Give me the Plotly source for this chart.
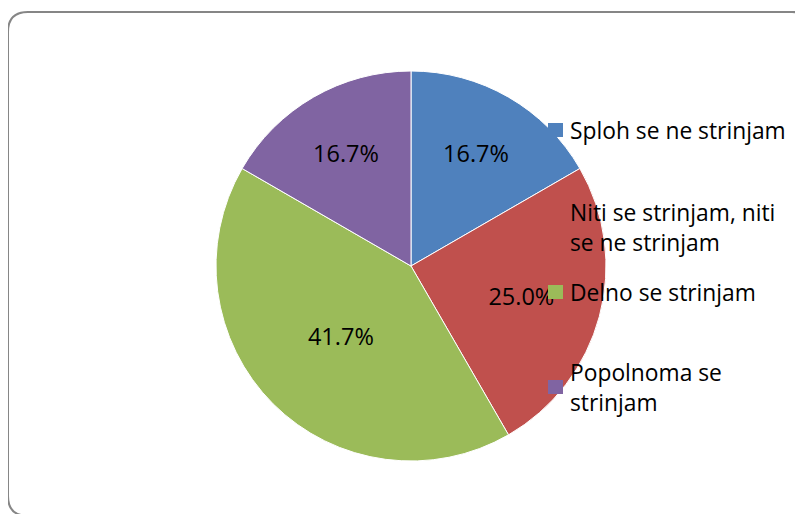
import plotly.graph_objects as go

labels = ["Sploh se ne strinjam", "Niti se strinjam, niti se ne strinjam",
          "Delno se strinjam", "Popolnoma se strinjam"]
legend_text = ["Sploh se ne strinjam", "Niti se strinjam, niti<br>se ne strinjam",
               "Delno se strinjam", "Popolnoma se<br>strinjam"]
values = [2, 3, 5, 2]
colors = ["#4F81BD", "#C0504D", "#9BBB59", "#8064A2"]

W, H = 803, 514
OFF = 8  # page body margin offset
def px(x): return (x - OFF) / W
def py(y): return 1 - (y - OFF) / H

FONT = "Open Sans"
FS_LBL = 23.5
FS_LEG = 22.8

fig = go.Figure()
fig.add_trace(go.Pie(
    labels=labels, values=values, sort=False, direction="clockwise", rotation=0,
    marker=dict(colors=colors, line=dict(color="white", width=1)),
    texttemplate="%{percent:.1%}", textposition="inside",
    insidetextorientation="horizontal",
    textfont=dict(family=FONT, size=FS_LBL, color="black"),
    domain=dict(x=[px(216), px(606)], y=[py(461), py(71)]),
    showlegend=False, hoverinfo="label+percent",
))

# legend (manual, Excel-like placement)
leg_y = [130, 227, 292, 387]
shapes = []
annotations = []
for txt, c, y in zip(legend_text, colors, leg_y):
    shapes.append(dict(type="rect", xref="paper", yref="paper",
                       x0=px(548), x1=px(563), y0=py(y - 7), y1=py(y + 7),
                       fillcolor=c, line=dict(width=0), layer="above"))
    annotations.append(dict(x=px(568), y=py(y), xref="paper", yref="paper",
                            text=txt, showarrow=False, xanchor="left", yanchor="middle",
                            align="left", font=dict(family=FONT, size=FS_LEG, color="black")))

# rounded chart border
x0, y0, x1, y1, r = 8, 12, 812, 516, 20
path = (f"M {px(x0)},{py(y0 + r)} Q {px(x0)},{py(y0)} {px(x0 + r)},{py(y0)} "
        f"L {px(x1 - r)},{py(y0)} Q {px(x1)},{py(y0)} {px(x1)},{py(y0 + r)} "
        f"L {px(x1)},{py(y1 - r)} Q {px(x1)},{py(y1)} {px(x1 - r)},{py(y1)} "
        f"L {px(x0 + r)},{py(y1)} Q {px(x0)},{py(y1)} {px(x0)},{py(y1 - r)} Z")
shapes.append(dict(type="path", xref="paper", yref="paper", path=path,
                   line=dict(color="#868686", width=2), layer="below"))

fig.update_layout(width=W, height=H, margin=dict(l=0, r=0, t=0, b=0),
                  paper_bgcolor="white", plot_bgcolor="white",
                  shapes=shapes, annotations=annotations,
                  font=dict(family=FONT))
fig.write_html("out.html")
